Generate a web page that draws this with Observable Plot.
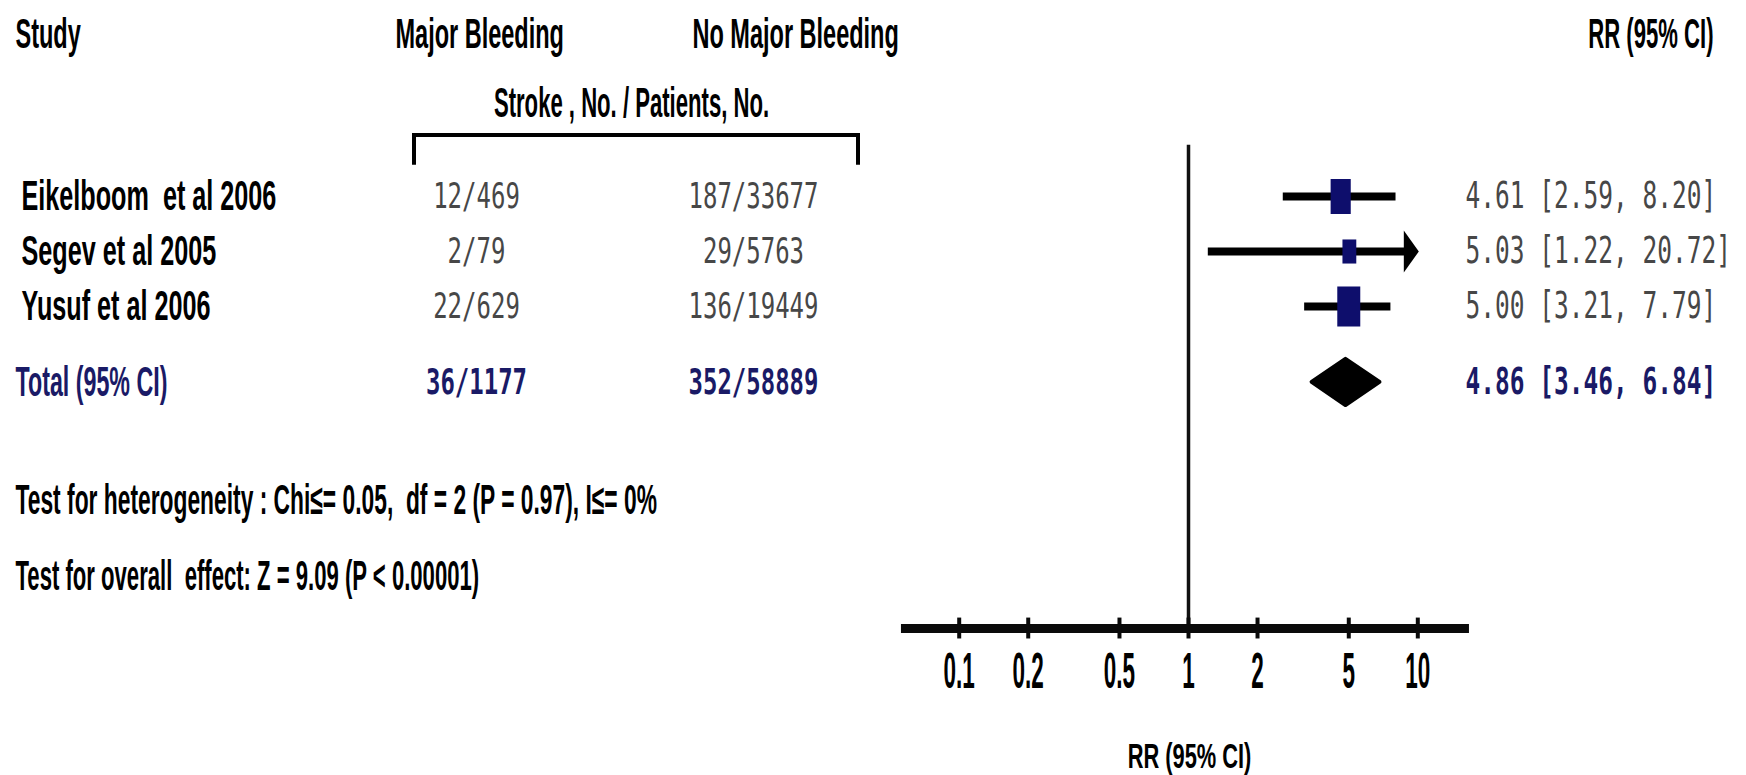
<!DOCTYPE html>
<html><head><meta charset="utf-8">
<script src="https://cdn.jsdelivr.net/npm/d3@7"></script>
<script src="https://cdn.jsdelivr.net/npm/@observablehq/plot@0.6"></script>
<style>
html,body{margin:0;padding:0;background:#fff;}
#chart{position:relative;width:1746px;height:775px;overflow:hidden;}
#chart svg text{white-space:pre;}
</style></head><body><div id="chart"></div>
<script>
// ---------- data ----------
const studies = ["Eikelboom  et al 2006", "Segev et al 2005", "Yusuf et al 2006"];
const majorBleeding = ["12/469", "2/79", "22/629"];
const noMajorBleeding = ["187/33677", "29/5763", "136/19449"];
const rrEstimate = [4.61, 5.03, 5.00];
const ciLower = [2.59, 1.22, 3.21];
const ciUpper = [8.20, 20.72, 7.79];
const studyWeight = [36, 17, 47];
const totalLabel = "Total (95% CI)";
const totalMajor = "36/1177";
const totalNoMajor = "352/58889";
const totalRR = 4.86, totalLower = 3.46, totalUpper = 6.84;
const axisTicks = [0.1, 0.2, 0.5, 1, 2, 5, 10];
const axisTickLabels = ["0.1", "0.2", "0.5", "1", "2", "5", "10"];
const axisExtent = [0.056, 16.8];
const displayMax = 10;
const headerStudy = "Study", headerMajor = "Major Bleeding", headerNoMajor = "No Major Bleeding";
const headerGroup = "Stroke , No. / Patients, No.", headerRR = "RR (95% CI)";
const heterogeneity = "Test for heterogeneity : Chi\u2264= 0.05,  df = 2 (P = 0.97), I\u2264= 0%";
const overallEffect = "Test for overall  effect: Z = 9.09 (P < 0.00001)";
const axisTitle = "RR (95% CI)";

// ---------- layout ----------
const W = 1746, H = 775;
const col = {study: 15, name: 21, major: 476, noMajor: 753, majorHead: 395, noMajorHead: 692,
             group: 631, rrText: 1465, rrHeadEnd: 1713, bracketL: 414, bracketR: 858, title: 1189};
const row = {header: -1.945, group: -0.69, bracketTop: -0.11, bracketBottom: 0.43, refTop: 0.07,
             total: 4.38, het: 6.53, overall: 7.91, axis: 8.855, tickLabel: 9.65, title: 11.18};
const navy = "#0e0e6c", totalColor = "#1a1a66";

const fmt = d3.format(".2f");
const rows = studies.map((s, i) => ({study: s, major: majorBleeding[i], noMajor: noMajorBleeding[i],
  rr: rrEstimate[i], lo: ciLower[i], hi: ciUpper[i], w: studyWeight[i], y: i + 1}));
const rrText = d => `${fmt(d.rr)} [${fmt(d.lo)}, ${fmt(d.hi)}]`;
const total = {rr: totalRR, lo: totalLower, hi: totalUpper};

const sans = "'Liberation Sans', Arial, sans-serif";
const lab = {fontFamily: sans, fontWeight: "bold", fontSize: 28, fill: "#000", ariaDescription: "lab"};
const head = {...lab, ariaDescription: "head"};
const name = {...lab, ariaDescription: "name"};
const test = {...lab, ariaDescription: "test"};
const totalLab = {...lab, fill: totalColor, ariaDescription: "totlab"};
const title = {...lab, fontSize: 26, ariaDescription: "title"};
const mono = {fontFamily: "'DejaVu Sans Mono', monospace", fontSize: 24, fill: "#474747", ariaDescription: "mono"};
const monoRR = {...mono, fontSize: 24.5};
const monoTot = {...mono, fill: totalColor, fontWeight: "bold"};
const monoTotRR = {...monoRR, fill: totalColor, fontWeight: "bold"};
const L = (text, y, dx, anchor, style) => Plot.text([text], {text: d => d, y, frameAnchor: "left", dx, textAnchor: anchor, ...style});

const boxSymbol = {draw(ctx, size) { const w = Math.sqrt(size / Math.PI), h = w * 1.74; ctx.rect(-w / 2, -h / 2, w, h); }};
const arrowSymbol = {draw(ctx) { ctx.moveTo(1, 0); ctx.lineTo(-14, -21); ctx.lineTo(-14, 21); ctx.closePath(); }};
const diamond = [
  {x: total.lo, y1: row.total, y2: row.total},
  {x: total.rr, y1: row.total - 0.42, y2: row.total + 0.42},
  {x: total.hi, y1: row.total, y2: row.total}
];

const svg = Plot.plot({
  width: W, height: H, marginLeft: 0, marginRight: 0, marginTop: 0, marginBottom: 0,
  x: {type: "log", domain: [1, 10], range: [1188, 1417.3], axis: null},
  y: {type: "linear", domain: [1, 2], range: [196, 251], axis: null},
  r: {domain: [0, d3.max(studyWeight)], range: [0, 23]},
  marks: [
    // reference line and axis
    Plot.ruleX([1], {x: d => d, y1: row.refTop, y2: row.axis, stroke: "#111", strokeWidth: 3.5}),
    Plot.ruleY([row.axis], {y: d => d, x1: axisExtent[0], x2: axisExtent[1], stroke: "#0a0a0a", strokeWidth: 9}),
    Plot.ruleX(axisTicks, {x: d => d, y1: row.axis - 0.19, y2: row.axis + 0.19, stroke: "#0a0a0a", strokeWidth: 4}),
    Plot.text(axisTicks, {x: d => d, y: row.tickLabel, text: (d, i) => axisTickLabels[i], textAnchor: "middle",
      fontFamily: sans, fontWeight: "bold", fontSize: 30, fill: "#000", ariaDescription: "tick"}),
    // confidence intervals
    Plot.ruleY(rows, {y: "y", x1: "lo", x2: d => Math.min(d.hi, displayMax) * 0.98, stroke: "#000", strokeWidth: 8}),
    Plot.dot(rows.filter(d => d.hi > displayMax), {x: () => displayMax, y: "y", symbol: arrowSymbol, fill: "#000", stroke: "none"}),
    Plot.dot(rows, {x: "rr", y: "y", r: "w", symbol: boxSymbol, fill: navy, stroke: "none"}),
    Plot.areaY(diamond, {x: "x", y1: "y1", y2: "y2", fill: "#000", stroke: "#000", strokeWidth: 4, strokeLinejoin: "round"}),
    // header
    L(headerStudy, row.header, col.study, "start", head),
    L(headerMajor, row.header, col.majorHead, "start", head),
    L(headerNoMajor, row.header, col.noMajorHead, "start", head),
    L(headerRR, row.header, col.rrHeadEnd, "end", lab),
    L(headerGroup, row.group, col.group, "middle", lab),
    // study rows
    Plot.text(rows, {text: "study", y: "y", frameAnchor: "left", dx: col.name, textAnchor: "start", ...name}),
    Plot.text(rows, {text: "major", y: "y", frameAnchor: "left", dx: col.major, textAnchor: "middle", ...mono}),
    Plot.text(rows, {text: "noMajor", y: "y", frameAnchor: "left", dx: col.noMajor, textAnchor: "middle", ...mono}),
    Plot.text(rows, {text: rrText, y: "y", frameAnchor: "left", dx: col.rrText, textAnchor: "start", ...monoRR}),
    // total row
    L(totalLabel, row.total, col.study, "start", totalLab),
    L(totalMajor, row.total, col.major, "middle", monoTot),
    L(totalNoMajor, row.total, col.noMajor, "middle", monoTot),
    L(rrText(total), row.total, col.rrText, "start", monoTotRR),
    // tests
    L(heterogeneity, row.het, col.study, "start", test),
    L(overallEffect, row.overall, col.study, "start", lab),
    // axis title
    L(axisTitle, row.title, col.title, "middle", title)
  ]
});

// narrow, tall lettering as in the reference
function stretch(key, sx, sy) {
  svg.querySelectorAll(`g[aria-description="${key}"] text`).forEach(t => {
    const tr = t.getAttribute("transform");
    if (tr) t.setAttribute("transform", `${tr} scale(${sx},${sy})`);
    else {
      const x = parseFloat(t.getAttribute("x")) || 0, y = parseFloat(t.getAttribute("y")) || 0;
      t.removeAttribute("x"); t.removeAttribute("y");
      t.setAttribute("transform", `translate(${x},${y}) scale(${sx},${sy})`);
    }
  });
}
stretch("lab", 0.79, 1.5);
stretch("head", 0.84, 1.5);
stretch("name", 0.9, 1.5);
stretch("test", 0.815, 1.5);
stretch("totlab", 0.83, 1.5);
stretch("title", 0.84, 1.35);
stretch("tick", 0.75, 1.65);
stretch("mono", 1, 1.5);

// bracket over the two count columns
const ys = svg.scale("y");
const yTop = ys.apply(row.bracketTop), yBot = ys.apply(row.bracketBottom);
d3.select(svg).append("path")
  .attr("d", `M${col.bracketL},${yBot}V${yTop}H${col.bracketR}V${yBot}`)
  .attr("fill", "none").attr("stroke", "#000").attr("stroke-width", 4);

document.getElementById("chart").appendChild(svg);
</script></body></html>
